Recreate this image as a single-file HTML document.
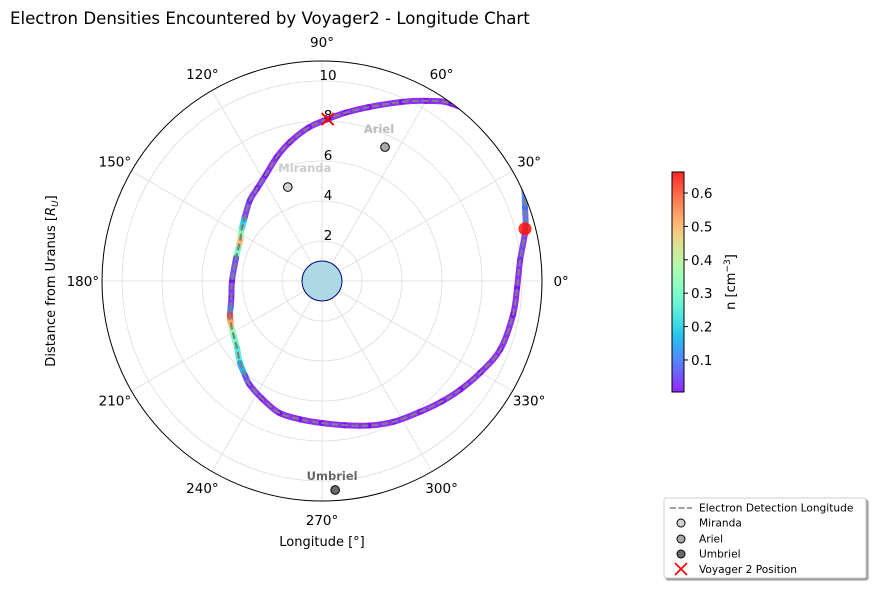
<!DOCTYPE html>
<html><head><meta charset="utf-8"><style>
body{margin:0;background:#fff;}
svg{font-family:"DejaVu Sans","Liberation Sans",sans-serif;}
</style></head><body>
<svg id="chart" width="876" height="590" viewBox="0 0 876 590" xmlns="http://www.w3.org/2000/svg">
<defs>
<clipPath id="pc"><circle cx="322" cy="281" r="220"/></clipPath>
<linearGradient id="cbg" x1="0" y1="1" x2="0" y2="0"></linearGradient>
<filter id="sh"><feDropShadow dx="2" dy="2" stdDeviation="0.5" flood-color="#000" flood-opacity="0.4"/></filter>
</defs>
<text x="10" y="24" font-size="16.6" fill="#000">Electron Densities Encountered by Voyager2 - Longitude Chart</text>
<g id="grid"></g>
<g id="plot" clip-path="url(#pc)"></g>
<circle cx="322" cy="281" r="220" fill="none" stroke="#000" stroke-width="1"/>
<g id="labels"></g>
<text transform="translate(55,281) rotate(-90)" text-anchor="middle" font-size="13">Distance from Uranus [<tspan font-style="italic">R</tspan><tspan font-style="italic" font-size="9" dy="3">U</tspan><tspan dy="-3">]</tspan></text>
<text x="322" y="546" text-anchor="middle" font-size="13">Longitude [°]</text>
<g id="cbar"></g>
<text transform="translate(735,282) rotate(-90)" text-anchor="middle" font-size="13">n [cm<tspan font-size="9" dy="-5">−3</tspan><tspan dy="5">]</tspan></text>
<g id="legend">
<rect x="664" y="498" width="202" height="80" rx="2" fill="#fff" stroke="#ccc" filter="url(#sh)"/>
<g><line x1="670" y1="508" x2="692" y2="508" stroke="#808080" stroke-width="1.6" stroke-dasharray="6,2.5"/><text x="699" y="511.5" font-size="10.6">Electron Detection Longitude</text></g>
<g><circle cx="681" cy="523" r="4" fill="#d3d3d3" stroke="#000"/><text x="699" y="526.5" font-size="10.6">Miranda</text></g>
<g><circle cx="681" cy="539" r="4" fill="#a9a9a9" stroke="#000"/><text x="699" y="542.5" font-size="10.6">Ariel</text></g>
<g><circle cx="681" cy="554" r="4" fill="#696969" stroke="#000"/><text x="699" y="557.5" font-size="10.6">Umbriel</text></g>
<g><path d="M675 563 L687 575 M687 563 L675 575" stroke="#f00" stroke-width="1.6"/><text x="699" y="573" font-size="10.6">Voyager 2 Position</text></g>
</g>
</svg>
<script>
const angles=[88,95,103,110,118,125,132,142,148,153,158,165,180,190,196,200,204,208,212,218,225,231,235,243,252,261,270,279,288,297,307,315,322,330,339,350,358,6,14,20,26,35,45,54,60,66,75,82,88];
const radii=[8.1,7.7,7.13,6.6,6.0,5.65,5.4,4.95,4.75,4.58,4.5,4.45,4.5,4.6,4.75,4.9,5.0,5.1,5.2,5.4,5.8,6.1,6.32,6.6,6.93,7.0,7.1,7.3,7.6,7.9,8.18,8.5,8.8,9.15,9.55,9.7,9.76,9.96,10.48,10.8,11.2,11.6,11.4,10.97,10.4,9.8,9.0,8.5,8.1];
const density=[0.01,0.01,0.01,0.01,0.02,0.02,0.03,0.2,0.35,0.5,0.3,0.05,0.02,0.03,0.1,0.62,0.5,0.35,0.3,0.25,0.15,0.05,0.02,0.01,0.01,0.01,0.01,0.01,0.01,0.01,0.01,0.01,0.01,0.01,0.01,0.01,0.01,0.03,0.08,0.1,0.02,0.01,0.01,0.01,0.01,0.01,0.01,0.01,0.01];
const moonNames=["Miranda","Ariel","Umbriel"];
const moonAngles=[110,64.8,273.6];
const moonRadii=[5.0,7.4,10.47];
const moonFill=["#d3d3d3","#a9a9a9","#696969"];
const moonText=["#cccccc","#bbbbbb","#666666"];
const peakAngle=[14.4];const peakR=[10.48];const peakN=[0.65];
const voyagerAngle=[88];const voyagerR=[8.1];
const rTicks=[2,4,6,8,10];
const thetaTicks=[0,30,60,90,120,150,180,210,240,270,300,330];
const cbTicks=[0.1,0.2,0.3,0.4,0.5,0.6];
const nMin=0.004,nMax=0.663;
const CX=322,CY=281,R=220,RMAX=11;
const NS="http://www.w3.org/2000/svg";
const labelOff=[[17,-19],[-6,-18],[-3,-14]];
function px(a,r){const t=a*Math.PI/180;return [CX+r/RMAX*R*Math.cos(t),CY-r/RMAX*R*Math.sin(t)];}
function mk(tag,at,parent){const e=document.createElementNS(NS,tag);for(const k in at)e.setAttribute(k,at[k]);parent.appendChild(e);return e;}
function rainbow(x){x=Math.max(0,Math.min(1,x));const r=Math.min(1,Math.abs(2*x-0.5)),g=Math.sin(Math.PI*x),b=Math.cos(Math.PI*x/2);return `rgb(${Math.round(r*255)},${Math.round(g*255)},${Math.round(b*255)})`;}
function cmap(n){return rainbow((n-nMin)/(nMax-nMin));}
const grid=document.getElementById('grid'),plot=document.getElementById('plot'),labels=document.getElementById('labels');
rTicks.forEach(t=>{const c=mk('circle',{cx:CX,cy:CY,r:t/RMAX*R,fill:'none',stroke:'#dcdcdc','stroke-width':0.8},grid);


const p=px(90,t);const tx=mk('text',{x:p[0]+6,y:p[1]-1,'text-anchor':'middle','font-size':13.5},labels);tx.textContent=t;

});
thetaTicks.forEach(a=>{const p=px(a,RMAX);const l=mk('line',{x1:CX,y1:CY,x2:p[0],y2:p[1],stroke:'#dcdcdc','stroke-width':0.8},grid);


const q=px(a,RMAX*1.087);const tx=mk('text',{x:q[0],y:q[1]+5,'text-anchor':'middle','font-size':13.5},labels);tx.textContent=a+'°';

});
const pl=mk('circle',{cx:CX,cy:CY,r:R/RMAX,fill:'#add8e6',stroke:'#000080','stroke-width':1},plot);


const P=angles.map((a,i)=>px(a,radii[i]));
function seg(i){const p0=P[Math.max(0,i-1)],p1=P[i],p2=P[i+1],p3=P[Math.min(P.length-1,i+2)];
const c1=[p1[0]+(p2[0]-p0[0])/6,p1[1]+(p2[1]-p0[1])/6],c2=[p2[0]-(p3[0]-p1[0])/6,p2[1]-(p3[1]-p1[1])/6];
return `C${c1[0]},${c1[1]} ${c2[0]},${c2[1]} ${p2[0]},${p2[1]}`;}
let full=`M${P[0][0]},${P[0][1]}`;
for(let i=0;i<P.length-1;i++){
const s=mk('path',{d:`M${P[i][0]},${P[i][1]}`+seg(i),fill:'none',stroke:cmap(density[i]),'stroke-width':6,'stroke-linecap':'round','stroke-opacity':0.85},plot);


full+=seg(i);}
const dl=mk('path',{d:full,fill:'none',stroke:'#808080','stroke-width':2.2,'stroke-dasharray':'7,3'},plot);


peakAngle.forEach((a,i)=>{const p=px(a,peakR[i]);const c=mk('circle',{cx:p[0],cy:p[1],r:6.5,fill:cmap(peakN[i]),'fill-opacity':0.85},plot);

});
moonNames.forEach((n,i)=>{const p=px(moonAngles[i],moonRadii[i]);const c=mk('circle',{cx:p[0],cy:p[1],r:4.3,fill:moonFill[i],stroke:'#000','stroke-width':1},plot);


const t=mk('text',{x:p[0]+labelOff[i][0],y:p[1]+labelOff[i][1]+4,'text-anchor':'middle','font-size':11.5,'font-weight':'bold',fill:moonText[i]},labels);t.textContent=n;

});
voyagerAngle.forEach((a,i)=>{const p=px(a,voyagerR[i]);const x=mk('path',{d:`M${p[0]-6} ${p[1]-6}L${p[0]+6} ${p[1]+6}M${p[0]+6} ${p[1]-6}L${p[0]-6} ${p[1]+6}`,stroke:'#f00','stroke-width':2},labels);

});
const cb=document.getElementById('cbar');const CBX=672,CBT=172,CBB=392,CBW=12;
const g=document.getElementById('cbg');for(let k=0;k<=20;k++){mk('stop',{offset:k/20,'stop-color':rainbow(k/20),'stop-opacity':0.85},g);}
mk('rect',{x:CBX,y:CBT,width:CBW,height:CBB-CBT,fill:'url(#cbg)',stroke:'#000','stroke-width':1},cb);
cbTicks.forEach(t=>{const y=CBB-(t-nMin)/(nMax-nMin)*(CBB-CBT);mk('line',{x1:CBX+CBW,y1:y,x2:CBX+CBW+4,y2:y,stroke:'#000'},cb);
const tx=mk('text',{x:CBX+CBW+7,y:y+5,'font-size':13.5},cb);tx.textContent=t.toFixed(1);

});
</script>
</body></html>
